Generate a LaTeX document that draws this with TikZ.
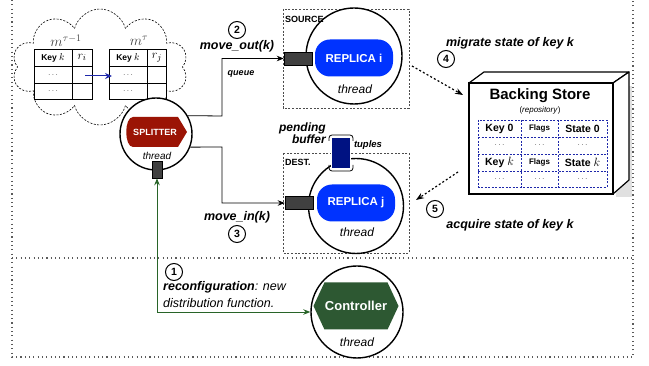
\documentclass[tikz,border=0pt]{standalone}
\usepackage{fontspec}
\setmainfont{Liberation Sans}
\usetikzlibrary{shapes.symbols,shapes.geometric,arrows.meta,calc}
\definecolor{splred}{RGB}{155,20,5}
\definecolor{repblue}{RGB}{0,51,255}
\definecolor{bufnavy}{RGB}{0,18,130}
\definecolor{ctrlgreen}{RGB}{45,88,50}
\definecolor{linegreen}{RGB}{40,100,40}
\definecolor{qgray}{RGB}{64,64,64}
\definecolor{tblue}{RGB}{30,40,170}
\definecolor{framegray}{RGB}{90,90,90}
\newcommand{\fsz}[1]{\fontsize{#1}{#1}\selectfont}
\begin{document}
\begin{tikzpicture}[x=1pt,y=-1pt,
  framedot/.style={framegray,line width=1.1pt,dash pattern=on 1.1pt off 3.2pt},
  boxdash/.style={draw=black!70,line width=0.6pt,dash pattern=on 2pt off 1.6pt},
  thr/.style={draw,circle,line width=1.4pt,fill=white,inner sep=0pt},
  qbox/.style={draw=black,fill=qgray,line width=0.6pt},
  num/.style={draw,circle,line width=1pt,minimum size=17pt,inner sep=0pt,font=\fsz{10.5}\bfseries},
  lbl/.style={font=\fsz{12.5}\bfseries\itshape,inner sep=0pt},
  thrtxt/.style={font=\fsz{12}\itshape,inner sep=0pt},
  conn/.style={line width=0.8pt,-{Stealth[length=7pt,width=5.5pt]}},
  dotarrow/.style={line width=1.2pt,dash pattern=on 2pt off 2.2pt,-{Stealth[length=8pt,width=6pt]}},
  cell/.style={inner sep=0pt,font=\fsz{8.5}},
  bcell/.style={inner sep=0pt,font=\fsz{10.5}\bfseries},
  tdash/.style={tblue,line width=0.7pt,dash pattern=on 2pt off 1.5pt},
  repbox/.style={rectangle,rounded corners=15pt,fill=repblue,minimum width=78pt,minimum height=37pt,text=white,font=\fsz{11.5}\bfseries}
]
\useasboundingbox (0,0) rectangle (649,366);
% frame
\draw[framedot] (12,0) -- (12,357) -- (633,357) -- (633,0);
\draw[framedot] (12,258) -- (633,258);

% cloud with tables
\node[cloud,draw,line width=0.6pt,dash pattern=on 2pt off 1.5pt,cloud puffs=10,aspect=1.55,minimum width=176pt,minimum height=116pt,inner sep=0pt] (cl) at (100,67) {};
\node[inner sep=0pt,text=black!75,font=\fsz{14}] (m1) at (66,41) {$m^{\tau-1}$};
\node[inner sep=0pt,text=black!75,font=\fsz{14}] (m2) at (139,41) {$m^{\tau}$};
\draw[line width=0.8pt] (34,49) rectangle (92,99) (34,66) -- (92,66) (34,83) -- (92,83) (72,49) -- (72,99);
\draw[line width=0.8pt] (109,49) rectangle (166,99) (109,66) -- (166,66) (109,83) -- (166,83) (147,49) -- (147,99);
\node[cell] (k1) at (53,58) {\textbf{Key} \fsz{10}$k$};
\node[cell,font=\fsz{13}] (r1) at (82,57.5) {$r_i$};
\node[cell] (d11) at (53,75) {$\ldots$};
\node[cell] (d12) at (53,91) {$\ldots$};
\node[cell] (k2) at (128,58) {\textbf{Key} \fsz{10}$k$};
\node[cell,font=\fsz{13}] (r2) at (157,57.5) {$r_j$};
\node[cell] (d21) at (128,75) {$\ldots$};
\node[cell] (d22) at (128,91) {$\ldots$};
\coordinate (ba) at (85,76);
\coordinate (bb) at (112,76);
\draw[tblue,line width=1pt,-{Stealth[length=7pt,width=6pt]}] (ba) -- (bb);

% splitter
\node[thr,minimum size=72pt] (splc) at (156,134) {};
\fill[splred] (133,117) -- (178,117) -- (187,132) -- (178,147) -- (133,147) .. controls (124,147) and (124,117) .. (133,117) -- cycle;
\node[inner sep=0pt,text=white,font=\fsz{9}\bfseries] (spl) at (155,132) {SPLITTER};
\node[thrtxt,font=\fsz{10}\itshape] (splt) at (157,156) {thread};
\node[qbox,minimum width=10pt,minimum height=17pt,inner sep=0pt] (spq) at (157,169.5) {};

% source
\draw[boxdash] (283,9) rectangle (409,108);
\node[thr,minimum size=96pt] (repic) at (354,56) {};
\node[anchor=west,inner sep=0pt,font=\fsz{9}\bfseries] (src) at (285,19) {SOURCE};
\node[repbox] (repi) at (354,58) {REPLICA i};
\node[thrtxt] (repit) at (355,89) {thread};
\node[qbox,minimum width=28pt,minimum height=13pt,inner sep=0pt] (qi) at (298,58.5) {};
\node[inner sep=0pt,font=\fsz{9}\bfseries\itshape] (qlbl) at (241,74) {queue};

% dest
\draw[boxdash] (283,153) rectangle (409,253);
\node[thr,minimum size=95pt] (repjc) at (356,206) {};
\node[anchor=west,inner sep=0pt,font=\fsz{9}\bfseries] (dst) at (285,162) {DEST.};
\node[repbox] (repj) at (356,203) {REPLICA j};
\node[thrtxt] (repjt) at (357,232) {thread};
\node[qbox,minimum width=28pt,minimum height=13pt,inner sep=0pt] (qj) at (299,203) {};
% pending buffer
\draw[line width=0.8pt,rounded corners=3pt] (329,141) -- (329,135) -- (353,135) -- (353,141);
\draw[line width=0.8pt,rounded corners=3pt] (329,165) -- (329,171) -- (353,171) -- (353,165);
\node[draw=white,line width=1pt,fill=bufnavy,minimum width=19pt,minimum height=31pt,inner sep=0pt] (buf) at (341,153) {};
\node[anchor=east,align=right,inner sep=0pt,font=\fsz{12}\bfseries\itshape] (pend) at (326,133) {pending\\buffer};
\node[inner sep=0pt,font=\fsz{9.5}\bfseries\itshape] (tup) at (368,145) {tuples};

% splitter connections
\draw[conn] (splc.30) -- (222,116) |- (qi.west);
\draw[conn] (splc.-21) -- (222,147) |- (qj.west);
\node[num] (n2) at (237,30) {2};
\node[lbl] (mo) at (237,46) {move\_out(k)};
\node[lbl] (mi) at (237,217) {move\_in(k)};
\node[num] (n3) at (237,234) {3};

% backing store
\fill[black!12] (616,86) rectangle (632,197);
\draw[line width=1.2pt,fill=white,line join=round] (469,83) -- (484,72) -- (629,72) -- (613,83) -- cycle;
\draw[line width=1.2pt,fill=white,line join=round] (613,83) -- (629,72) -- (629,180) -- (613,194) -- cycle;
\draw[line width=1.2pt,fill=white] (469,83) rectangle (613,194);
\node[inner sep=0pt,font=\fsz{15}\bfseries] (bs) at (540,96) {Backing Store};
\node[inner sep=0pt,font=\fsz{8}] (rep) at (540,110) {(\textit{repository})};
\draw[tdash] (478,120) rectangle (607,187);
\draw[tdash] (478,137) -- (607,137) (478,154) -- (607,154) (478,171) -- (607,171) (521,120) -- (521,187) (558,120) -- (558,187);
\node[bcell] (ka) at (499.5,128.5) {Key 0};
\node[bcell,font=\fsz{8}\bfseries] (fa) at (539.5,128.5) {Flags};
\node[bcell] (sa) at (582.5,128.5) {State 0};
\node[cell] (da1) at (499.5,145.5) {$\ldots$};
\node[cell] (da2) at (539.5,145.5) {$\ldots$};
\node[cell] (da3) at (582.5,145.5) {$\ldots$};
\node[bcell] (kb) at (499.5,162.5) {Key \textmd{\fsz{12}$k$}};
\node[bcell,font=\fsz{8}\bfseries] (fb) at (539.5,162.5) {Flags};
\node[bcell] (sb) at (582.5,162.5) {State \textmd{\fsz{12}$k$}};
\node[cell] (db1) at (499.5,179) {$\ldots$};
\node[cell] (db2) at (539.5,179) {$\ldots$};
\node[cell] (db3) at (582.5,179) {$\ldots$};

% migrate / acquire
\coordinate (s4) at (412,66);
\coordinate (e4) at (463,95);
\draw[dotarrow] (s4) -- (e4);
\node[num] (n4) at (446,59) {4};
\node[lbl] (mg) at (510,43) {migrate state of key k};
\coordinate (s5) at (458,172);
\coordinate (e5) at (416,200);
\draw[dotarrow] (s5) -- (e5);
\node[num] (n5) at (435,209) {5};
\node[lbl] (aq) at (510,225) {acquire state of key k};

% controller
\node[thr,minimum size=92pt] (ctrlc) at (357,312) {};
\node[signal,signal to=east and west,signal pointer angle=130,fill=ctrlgreen,minimum width=85pt,minimum height=47pt,inner sep=0pt,text=white,font=\fsz{13}\bfseries] (ctrl) at (356,306) {Controller};
\node[thrtxt] (ctrlt) at (357,342) {thread};
\draw[linegreen,line width=0.9pt,{Stealth[length=7pt,width=5.5pt]}-{Stealth[length=7pt,width=5.5pt]}] (spq.south) |- (ctrlc.west);
\node[num] (n1) at (174,272) {1};
\node[anchor=west,inner sep=0pt,font=\fsz{12.5}\itshape] (rc1) at (163,287) {\textbf{reconfiguration}: new};
\node[anchor=west,inner sep=0pt,font=\fsz{12.5}\itshape] (rc2) at (163,303) {distribution function.};
\end{tikzpicture}
\end{document}
